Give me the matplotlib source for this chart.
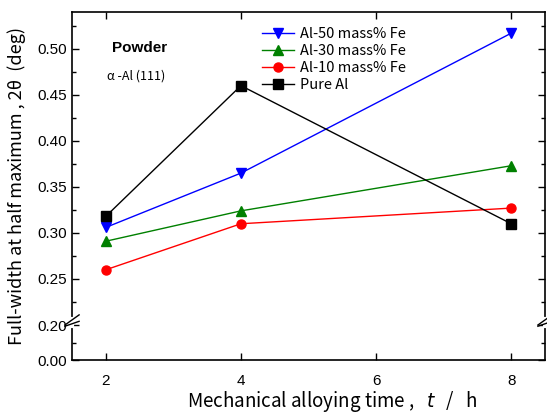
import numpy as np
import matplotlib
matplotlib.use("Agg")
import matplotlib.pyplot as plt
from matplotlib.ticker import FixedLocator, FormatStrFormatter
import matplotlib.transforms as mtransforms

plt.rcParams['font.family'] = ['Liberation Sans', 'DejaVu Sans']

time_h = [2, 4, 8]
al50 = [0.306, 0.365, 0.517]
al30 = [0.291, 0.324, 0.373]
al10 = [0.260, 0.310, 0.327]
pure_al = [0.318, 0.460, 0.310]

series = [
    ("Al-50 mass% Fe", al50, "blue", "v"),
    ("Al-30 mass% Fe", al30, "green", "^"),
    ("Al-10 mass% Fe", al10, "red", "o"),
    ("Pure Al", pure_al, "black", "s"),
]

# compressed region below the axis break at 0.20
BREAK = 0.20
K = 0.19


def fwd(y):
    y = np.asarray(y, dtype=float)
    return np.where(y >= BREAK, y, BREAK - (BREAK - y) * K)


def inv(y):
    y = np.asarray(y, dtype=float)
    return np.where(y >= BREAK, y, BREAK - (BREAK - y) / K)


fig = plt.figure(figsize=(5.47, 4.13), dpi=100)
ax = fig.add_axes([72 / 547, 1 - 360 / 413, (545 - 72) / 547, (360 - 12) / 413])

for name, vals, col, mk in series:
    ax.plot(time_h, vals, color=col, marker=mk, markersize=6.5, linewidth=1,
            label=name)

ax.set_yscale('function', functions=(fwd, inv))
ax.set_ylim(0, 0.54)
ax.set_xlim(1.5, 8.5)

ax.yaxis.set_major_locator(FixedLocator([0.0, 0.20, 0.25, 0.30, 0.35, 0.40, 0.45, 0.50]))
ax.yaxis.set_minor_locator(FixedLocator([0.10, 0.225, 0.275, 0.325, 0.375, 0.425, 0.475, 0.525]))
ax.yaxis.set_major_formatter(FormatStrFormatter('%.2f'))
ax.set_xticks([2, 4, 6, 8])
ax.xaxis.set_minor_locator(FixedLocator([]))

ax.tick_params(which='both', direction='in', top=True, right=True,
               labelsize=11, width=1)
ax.tick_params(which='major', length=5)
ax.tick_params(which='minor', length=3)
ax.tick_params(axis='x', pad=10)
for sp in ax.spines.values():
    sp.set_linewidth(1.2)

# axis break marks on both vertical spines
trans = mtransforms.blended_transform_factory(ax.transAxes, ax.transData)
for xs in (0, 1):
    ax.plot([xs, xs], [0.196, 0.206], transform=trans, color='white',
            linewidth=3, clip_on=False, zorder=5)
    for dy in (0.0, 0.007):
        ax.plot([xs - 0.015, xs + 0.015], [0.193 + dy, 0.204 + dy],
                transform=trans, color='black', linewidth=1, clip_on=False,
                zorder=6)

jp = ['Noto Sans CJK JP', 'DejaVu Sans']
ax.set_xlabel("Mechanical alloying time ,   $t$   /   h", fontsize=13.5,
              family=jp, labelpad=1)
ax.xaxis.label.set_x(0.55)
ax.set_ylabel("Full-width at half maximum , 2θ  (deg)", fontsize=13, family=jp,
              labelpad=8)

ax.text(0.085, 0.885, "Powder", transform=ax.transAxes, fontsize=11,
        fontweight='bold')
ax.text(0.075, 0.805, "α -Al (111)", transform=ax.transAxes, fontsize=9,
        family=jp)

ax.legend(loc='upper left', bbox_to_anchor=(0.38, 0.985), frameon=False,
          handlelength=2.2, labelspacing=0.2, borderpad=0.2,
          handletextpad=0.4, prop={'family': jp, 'size': 10.5})

fig.savefig("out.png", dpi=100)
